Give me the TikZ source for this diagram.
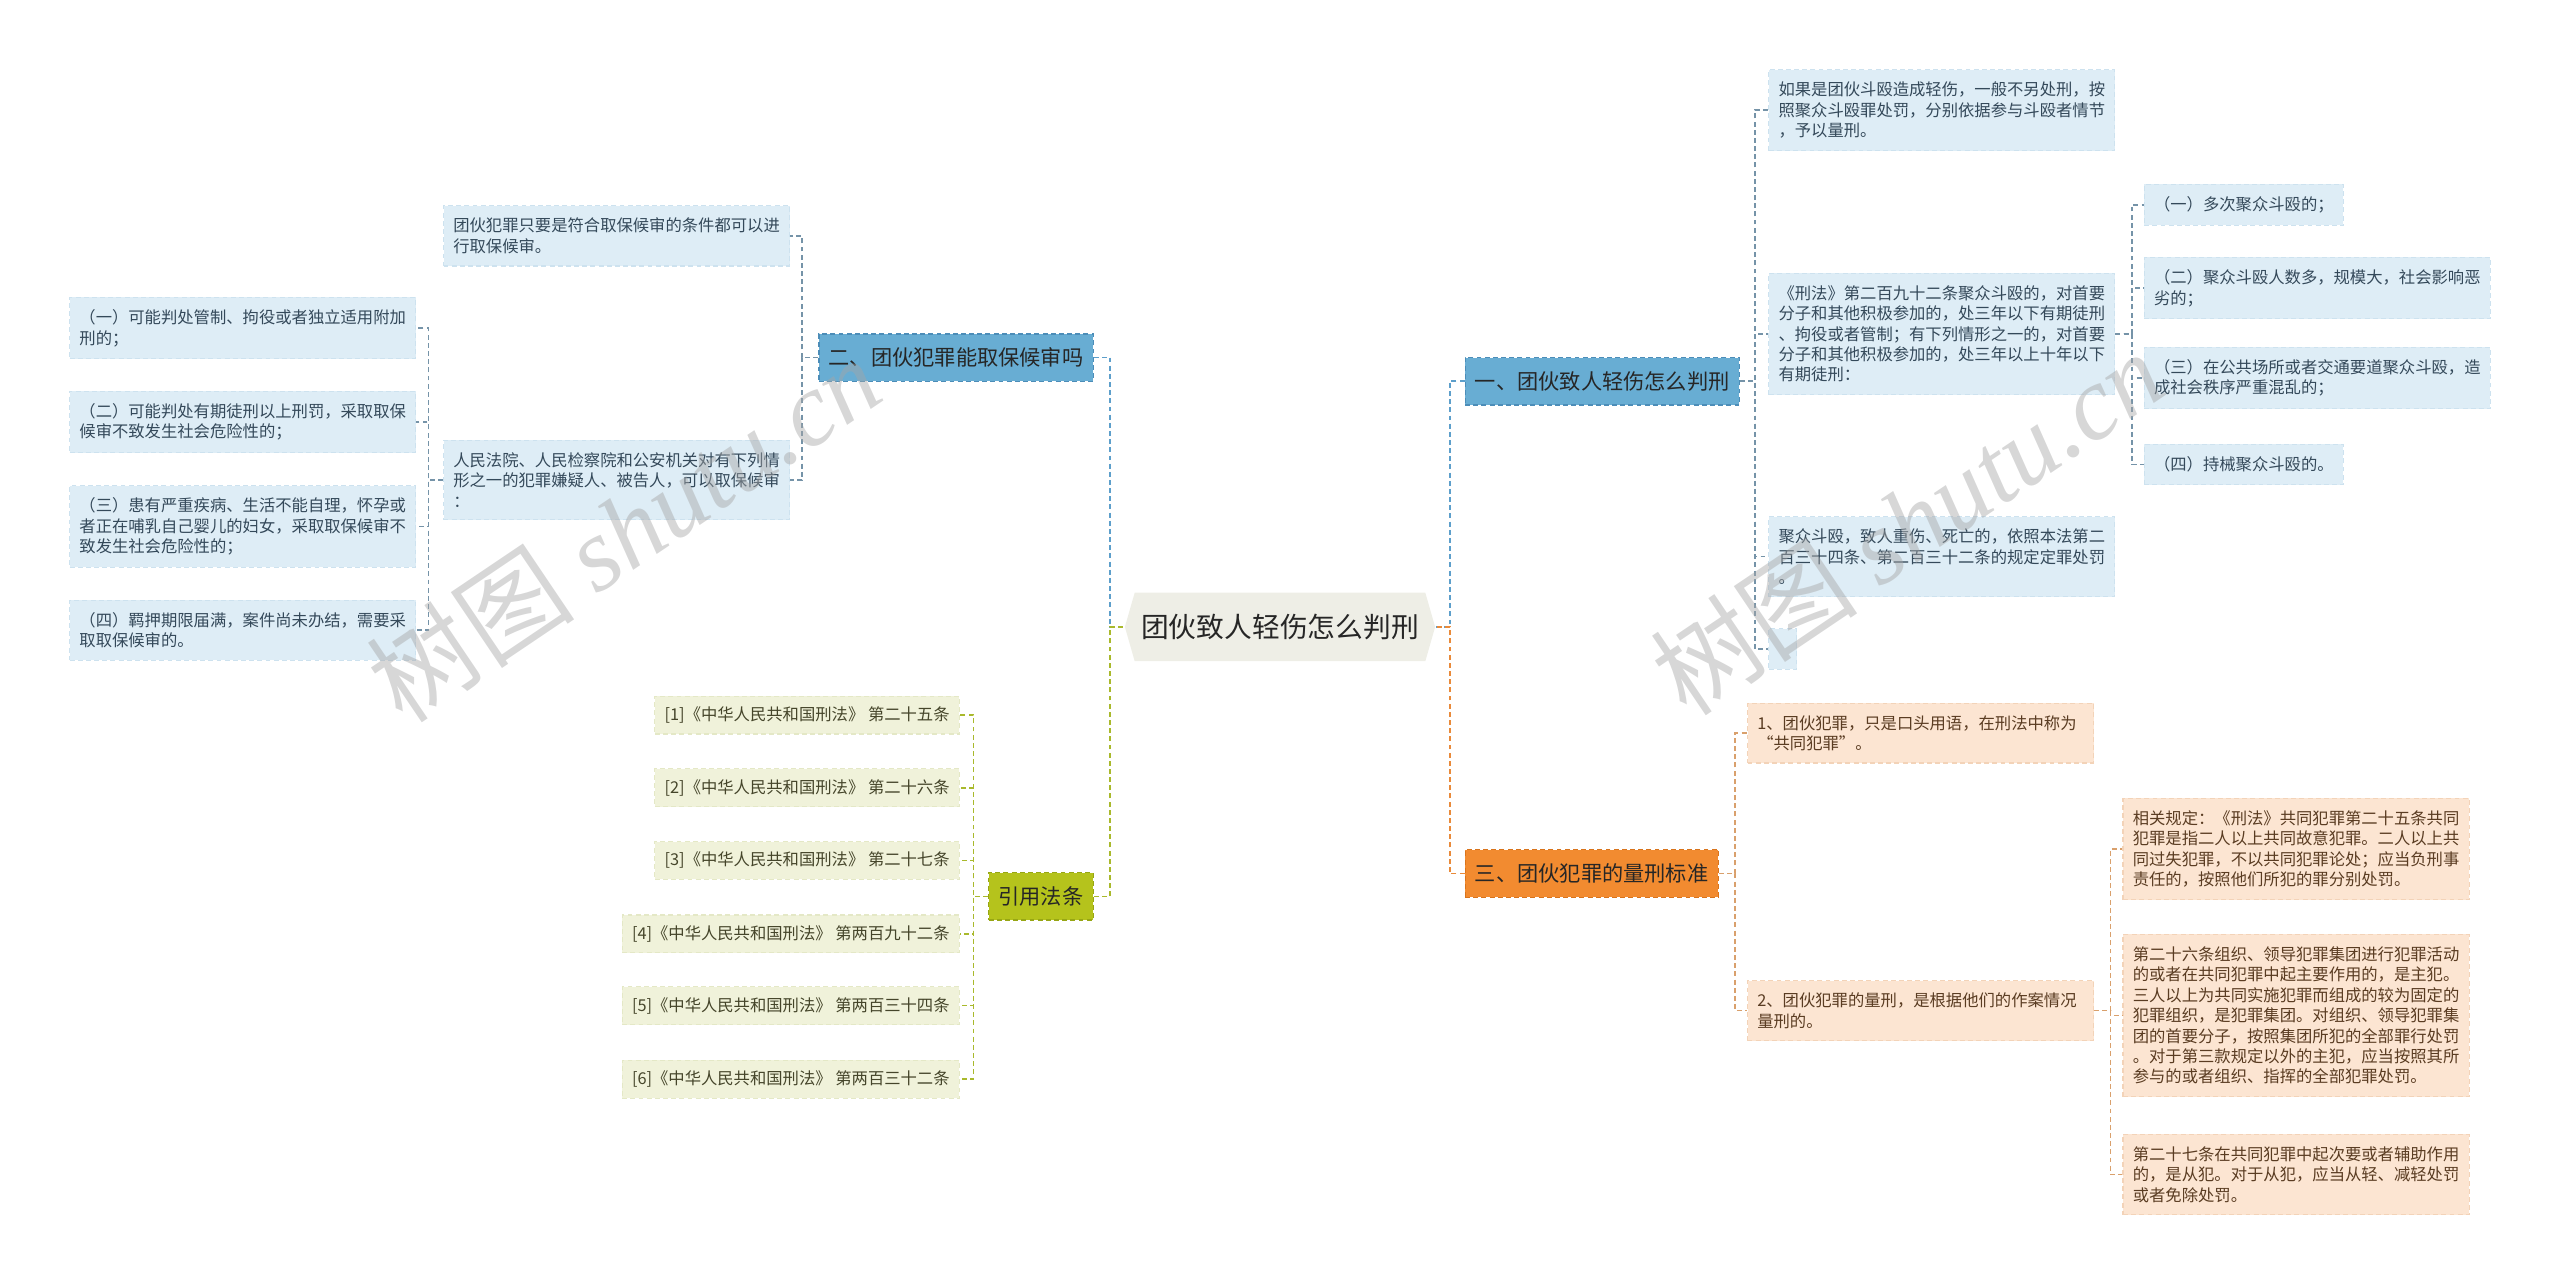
\documentclass[tikz,border=0pt]{standalone}
\usepackage{fontspec}
\setmainfont{Noto Sans CJK SC}
\newfontfamily\wmfont{Liberation Serif}
\usetikzlibrary{calc,shapes.symbols}
\definecolor{rootfill}{HTML}{EEEEE6}
\definecolor{topicblue}{HTML}{68ADD3}
\definecolor{topicblueline}{HTML}{4C8DB8}
\definecolor{topicorange}{HTML}{F28B30}
\definecolor{topicorangeline}{HTML}{D9741C}
\definecolor{topicolive}{HTML}{B5C31C}
\definecolor{topicoliveline}{HTML}{97A614}
\definecolor{leafblue}{HTML}{DEEDF6}
\definecolor{leafblueline}{HTML}{CDE2EF}
\definecolor{leafpeach}{HTML}{FCE5D2}
\definecolor{leafpeachline}{HTML}{F3D3B8}
\definecolor{leaflaw}{HTML}{F0F2DA}
\definecolor{leaflawline}{HTML}{E4E8C6}
\definecolor{linkblue}{HTML}{5D9FCB}
\definecolor{linkslate}{HTML}{7593A8}
\definecolor{linkorange}{HTML}{E98A3A}
\definecolor{linkbrown}{HTML}{D9A06C}
\definecolor{linkolive}{HTML}{A9B92C}
\definecolor{inkblue}{HTML}{34495A}
\definecolor{inkbrown}{HTML}{5A3C22}
\definecolor{inkolive}{HTML}{45452A}
\tikzset{
  root/.style={shape=signal,signal to=east and west,signal pointer angle=148,fill=rootfill,
    minimum height=42pt,inner xsep=4pt,font=\fontsize{17}{20}\selectfont,text=black!85},
  topic/.style={draw,dash pattern=on 3pt off 2pt,line width=0.8pt,inner xsep=6pt,
    minimum height=29pt,font=\fontsize{13}{15}\selectfont,text=black!85},
  tblue/.style={topic,fill=topicblue,draw=topicblueline},
  torange/.style={topic,fill=topicorange,draw=topicorangeline},
  tolive/.style={topic,fill=topicolive,draw=topicoliveline},
  leaf/.style={draw,dash pattern=on 3pt off 2pt,line width=0.7pt,inner xsep=6pt,inner ysep=7.5pt,
    align=left,font=\fontsize{10}{12.5}\selectfont},
  wide/.style={text width=200pt},
  lblue/.style={leaf,fill=leafblue,draw=leafblueline,text=inkblue},
  lpeach/.style={leaf,fill=leafpeach,draw=leafpeachline,text=inkbrown},
  llaw/.style={leaf,fill=leaflaw,draw=leaflawline,text=inkolive,inner ysep=6.5pt},
  link/.style={dash pattern=on 3pt off 2pt,line width=0.9pt},
  watermark/.style={rotate=34,text=gray!70,text opacity=0.45,font=\fontsize{64}{64}\selectfont},
}
\begin{document}
\begin{tikzpicture}[x=1pt,y=-1pt]
  \useasboundingbox (0,0) rectangle (1568,787);
  % --- centre ---
  \node[root] (root) at (784,384) {团伙致人轻伤怎么判刑};
  % --- right top: 一、团伙致人轻伤怎么判刑 ---
  \node[tblue,anchor=west] (qing) at (897,233.5) {一、团伙致人轻伤怎么判刑};
  \node[lblue,wide,anchor=west] (qing1) at (1083,67.5) {如果是团伙斗殴造成轻伤，一般不另处刑，按\\照聚众斗殴罪处罚，分别依据参与斗殴者情节\\，予以量刑。};
  \node[lblue,wide,anchor=west] (qing2) at (1083,204.5) {《刑法》第二百九十二条聚众斗殴的，对首要\\分子和其他积极参加的，处三年以下有期徒刑\\、拘役或者管制；有下列情形之一的，对首要\\分子和其他积极参加的，处三年以上十年以下\\有期徒刑：};
  \node[lblue,wide,anchor=west] (qing3) at (1083,341) {聚众斗殴，致人重伤、死亡的，依照本法第二\\百三十四条、第二百三十二条的规定定罪处罚\\。};
  \node[lblue,anchor=west,minimum width=17pt,minimum height=25pt,inner sep=0pt] (qing4) at (1083,397.5) {};
  \node[lblue,anchor=west] (case1) at (1313,125.5) {（一）多次聚众斗殴的；};
  \node[lblue,wide,anchor=west] (case2) at (1313,176.5) {（二）聚众斗殴人数多，规模大，社会影响恶\\劣的；};
  \node[lblue,wide,anchor=west] (case3) at (1313,231.5) {（三）在公共场所或者交通要道聚众斗殴，造\\成社会秩序严重混乱的；};
  \node[lblue,anchor=west] (case4) at (1313,284.5) {（四）持械聚众斗殴的。};
  % --- right bottom: 三、团伙犯罪的量刑标准 ---
  \node[torange,anchor=west] (liang) at (897,535) {三、团伙犯罪的量刑标准};
  \node[lpeach,wide,anchor=west] (liang1) at (1070,449) {1、团伙犯罪，只是口头用语，在刑法中称为\\“共同犯罪”。};
  \node[lpeach,wide,anchor=west] (liang2) at (1070,619) {2、团伙犯罪的量刑，是根据他们的作案情况\\量刑的。};
  \node[lpeach,wide,anchor=west] (art25) at (1300,520) {相关规定：《刑法》共同犯罪第二十五条共同\\犯罪是指二人以上共同故意犯罪。二人以上共\\同过失犯罪，不以共同犯罪论处；应当负刑事\\责任的，按照他们所犯的罪分别处罚。};
  \node[lpeach,wide,anchor=west] (art26) at (1300,622) {第二十六条组织、领导犯罪集团进行犯罪活动\\的或者在共同犯罪中起主要作用的，是主犯。\\三人以上为共同实施犯罪而组成的较为固定的\\犯罪组织，是犯罪集团。对组织、领导犯罪集\\团的首要分子，按照集团所犯的全部罪行处罚\\。对于第三款规定以外的主犯，应当按照其所\\参与的或者组织、指挥的全部犯罪处罚。};
  \node[lpeach,wide,anchor=west] (art27) at (1300,719.5) {第二十七条在共同犯罪中起次要或者辅助作用\\的，是从犯。对于从犯，应当从轻、减轻处罚\\或者免除处罚。};
  % --- left top: 二、团伙犯罪能取保候审吗 ---
  \node[tblue,anchor=east] (bao) at (670,219) {二、团伙犯罪能取保候审吗};
  \node[lblue,wide,anchor=east] (bao1) at (484,144.5) {团伙犯罪只要是符合取保候审的条件都可以进\\行取保候审。};
  \node[lblue,wide,anchor=east] (bao2) at (484,294) {人民法院、人民检察院和公安机关对有下列情\\形之一的犯罪嫌疑人、被告人，可以取保候审\\：};
  \node[lblue,wide,anchor=east] (cond1) at (255,201) {（一）可能判处管制、拘役或者独立适用附加\\刑的；};
  \node[lblue,wide,anchor=east] (cond2) at (255,258.5) {（二）可能判处有期徒刑以上刑罚，采取取保\\候审不致发生社会危险性的；};
  \node[lblue,wide,anchor=east] (cond3) at (255,322.5) {（三）患有严重疾病、生活不能自理，怀孕或\\者正在哺乳自己婴儿的妇女，采取取保候审不\\致发生社会危险性的；};
  \node[lblue,wide,anchor=east] (cond4) at (255,386) {（四）羁押期限届满，案件尚未办结，需要采\\取取保候审的。};
  % --- left bottom: 引用法条 ---
  \node[tolive,anchor=east] (fa) at (670,549) {引用法条};
  \node[llaw,anchor=east] (fa1) at (588,438) {[1]《中华人民共和国刑法》 第二十五条};
  \node[llaw,anchor=east] (fa2) at (588,482.5) {[2]《中华人民共和国刑法》 第二十六条};
  \node[llaw,anchor=east] (fa3) at (588,527) {[3]《中华人民共和国刑法》 第二十七条};
  \node[llaw,anchor=east] (fa4) at (588,572) {[4]《中华人民共和国刑法》 第两百九十二条};
  \node[llaw,anchor=east] (fa5) at (588,616) {[5]《中华人民共和国刑法》 第两百三十四条};
  \node[llaw,anchor=east] (fa6) at (588,661) {[6]《中华人民共和国刑法》 第两百三十二条};
  % --- connectors ---
  \draw[link,linkblue] (qing.west) -- ++(-9,0) |- (root.east);
  \draw[link,linkorange] (liang.west) -- ++(-9,0) |- (root.east);
  \draw[link,linkblue] (bao.east) -- ++(10,0) |- (root.west);
  \draw[link,linkolive] (fa.east) -- ++(10,0) |- (root.west);
  \foreach \n in {qing1,qing2,qing3,qing4} \draw[link,linkslate] (qing.east) -- ++(9,0) |- (\n.west);
  \foreach \n in {case1,case2,case3,case4} \draw[link,linkslate] (qing2.east) -- ++(10,0) |- (\n.west);
  \foreach \n in {liang1,liang2} \draw[link,linkbrown] (liang.east) -- ++(10,0) |- (\n.west);
  \foreach \n in {art25,art26,art27} \draw[link,linkbrown] (liang2.east) -- ++(10,0) |- (\n.west);
  \foreach \n in {bao1,bao2} \draw[link,linkslate] (bao.west) -- ++(-10,0) |- (\n.east);
  \foreach \n in {cond1,cond2,cond3,cond4} \draw[link,linkslate] (bao2.west) -- ++(-9,0) |- (\n.east);
  \foreach \n in {fa1,fa2,fa3,fa4,fa5,fa6} \draw[link,linkolive] (fa.west) -- ++(-9,0) |- (\n.east);
  % --- watermarks ---
  \node[watermark] (wmleft) at (382,324) {树图 {\wmfont\itshape shutu.cn}};
  \node[watermark] (wmright) at (1168,320) {树图 {\wmfont\itshape shutu.cn}};
\end{tikzpicture}
\end{document}
